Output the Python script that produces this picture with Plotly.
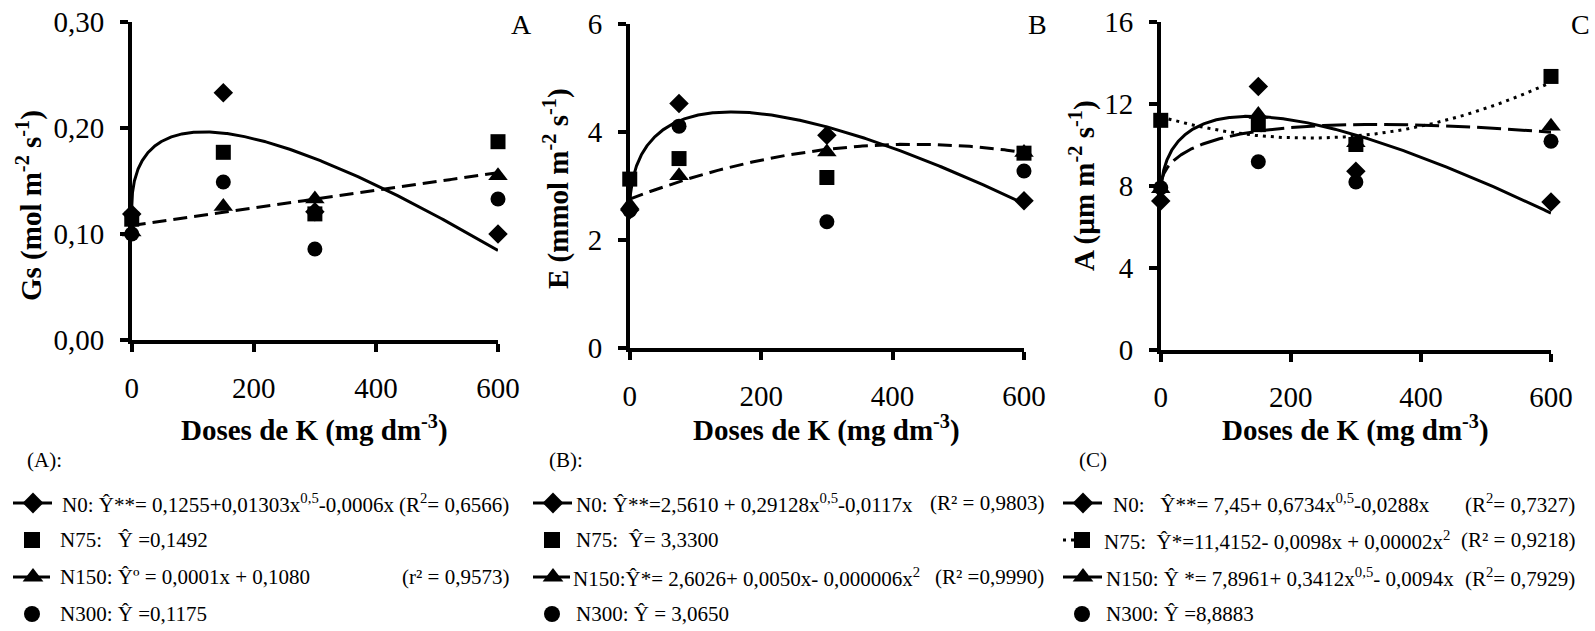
import numpy as np
import plotly.graph_objects as go

W, H = 1595, 631
FONT = "Liberation Serif, Times New Roman, serif"

# ---------------- data ----------------
doses_A = [0, 150, 300, 600]
gs_N0 = [0.119, 0.233, 0.121, 0.100]
gs_N75 = [0.114, 0.177, 0.119, 0.187]
gs_N150 = [0.102, 0.126, 0.133, 0.155]
gs_N300 = [0.100, 0.149, 0.086, 0.133]

doses_B = [0, 75, 300, 600]
e_N0 = [2.56, 4.53, 3.94, 2.73]
e_N75 = [3.13, 3.51, 3.16, 3.61]
e_N150 = [2.65, 3.19, 3.63, 3.62]
e_N300 = [2.55, 4.11, 2.34, 3.28]

doses_C = [0, 150, 300, 600]
a_N0 = [7.25, 12.84, 8.71, 7.21]
a_N75 = [11.19, 10.98, 10.01, 13.33]
a_N150 = [7.85, 11.47, 10.10, 10.90]
a_N300 = [7.90, 9.17, 8.18, 10.17]

# fitted trend-line coefficients (as drawn)
fit_A_N0 = [0.1255, 0.01303, -0.0006]        # a + b*x^0.5 + c*x
fit_A_N150 = [0.1080, 0.000083]               # a + b*x
fit_B_N0 = [2.5610, 0.29128, -0.0117]         # a + b*x^0.5 + c*x
fit_B_N150 = [2.76, 0.0047, -0.00000544]      # a + b*x + c*x^2
fit_C_N0 = [7.45, 0.6734, -0.0288]            # a + b*x^0.5 + c*x
fit_C_N75 = [11.35, -0.0090, 0.0000197]       # a + b*x + c*x^2
fit_C_N150 = [7.8961, 0.3412, -0.0094]        # a + b*x^0.5 + c*x

x_ticks = [0, 200, 400, 600]
yt_A = [0, 0.1, 0.2, 0.3]
yt_A_text = ["0,00", "0,10", "0,20", "0,30"]
yt_B = [0, 2, 4, 6]
yt_C = [0, 4, 8, 12, 16]

legend_A = ["N0: Ŷ**= 0,1255+0,01303x<sup>0,5</sup>-0,0006x",
            "N75:\u00a0\u00a0 Ŷ =0,1492",
            "N150: Ŷº = 0,0001x + 0,1080",
            "N300: Ŷ =0,1175"]
r2_A = ["(R<sup>2</sup>= 0,6566)", None, "(r² = 0,9573)", None]
legend_B = ["N0: Ŷ**=2,5610 + 0,29128x<sup>0,5</sup>-0,0117x",
            "N75:\u00a0 Ŷ= 3,3300",
            "N150:Ŷ*= 2,6026+ 0,0050x- 0,000006x<sup>2</sup>",
            "N300: Ŷ = 3,0650"]
r2_B = ["(R² = 0,9803)", None, "(R² =0,9990)", None]
legend_C = ["N0:\u00a0\u00a0 Ŷ**= 7,45+ 0,6734x<sup>0,5</sup>-0,0288x",
            "N75:\u00a0 Ŷ*=11,4152- 0,0098x + 0,00002x<sup>2</sup>",
            "N150: Ŷ *= 7,8961+ 0,3412x<sup>0,5</sup>- 0,0094x",
            "N300: Ŷ =8,8883"]
r2_C = ["(R<sup>2</sup>= 0,7327)", "(R² = 0,9218)", "(R<sup>2</sup>= 0,7929)", None]

# ---------------- helpers ----------------
xs = 600 * np.linspace(0, 1, 400) ** 2.5


def f_sqrt(c, x):
    return c[0] + c[1] * np.sqrt(x) + c[2] * x


def f_lin(c, x):
    return c[0] + c[1] * x


def f_quad(c, x):
    return c[0] + c[1] * x + c[2] * x ** 2


def px(v):
    return v / W


def py(v):
    return 1 - v / H


SYM = {"N0": ("diamond", 15), "N75": ("square", 15), "N150": ("triangle-up", 17), "N300": ("circle", 15)}

fig = go.Figure()

LW = 3.5
# axes pixel boxes: (x of y-axis line, x of 600, y top, y of x-axis line)
boxes = [(130, 498, 21.7, 342), (628, 1024, 24, 350), (1159, 1551, 21.7, 351.5)]


def add_panel(i, doses, series, curves):
    xa = "x" if i == 1 else f"x{i}"
    ya = "y" if i == 1 else f"y{i}"
    for (x, y, dash) in curves:
        fig.add_trace(go.Scatter(x=x, y=y, mode="lines", xaxis=xa, yaxis=ya,
                                 line=dict(color="black", width=3, dash=dash),
                                 showlegend=False, hoverinfo="skip", cliponaxis=False))
    for name, vals in series:
        s, sz = SYM[name]
        fig.add_trace(go.Scatter(x=doses, y=vals, mode="markers", xaxis=xa, yaxis=ya,
                                 marker=dict(symbol=s, size=sz, color="black", line=dict(width=0)),
                                 showlegend=False, cliponaxis=False, name=name))


add_panel(1, doses_A,
          [("N0", gs_N0), ("N75", gs_N75), ("N150", gs_N150), ("N300", gs_N300)],
          [(xs, f_sqrt(fit_A_N0, xs), "solid"), (xs, f_lin(fit_A_N150, xs), "14px,7px")])
add_panel(2, doses_B,
          [("N0", e_N0), ("N75", e_N75), ("N150", e_N150), ("N300", e_N300)],
          [(xs, f_sqrt(fit_B_N0, xs), "solid"), (xs, f_quad(fit_B_N150, xs), "14px,7px")])
add_panel(3, doses_C,
          [("N0", a_N0), ("N75", a_N75), ("N150", a_N150), ("N300", a_N300)],
          [(xs, f_sqrt(fit_C_N0, xs), "solid"), (xs, f_quad(fit_C_N75, xs), "3px,5px"),
           (xs, f_sqrt(fit_C_N150, xs), "24px,7px")])

axis_common = dict(showline=True, linewidth=LW, linecolor="black", ticks="outside", ticklen=8,
                   tickwidth=LW, tickcolor="black", showgrid=False, zeroline=False,
                   automargin=False,
                   tickfont=dict(family=FONT, size=29, color="black"))

yranges = [([0, 0.3], yt_A, yt_A_text), ([0, 6], yt_B, [str(v) for v in yt_B]),
           ([0, 16], yt_C, [str(v) for v in yt_C])]

layout = dict(template="none", width=W, height=H, margin=dict(l=0, r=0, t=0, b=0, pad=0),
              paper_bgcolor="white", plot_bgcolor="rgba(0,0,0,0)", showlegend=False,
              font=dict(family=FONT, color="black"))
for i, (b, yr) in enumerate(zip(boxes, yranges), start=1):
    x0, x1, yt, yb = b
    sfx = "" if i == 1 else str(i)
    layout["xaxis" + sfx] = dict(axis_common, domain=[px(x0 + LW / 2), px(x1)], range=[0, 600],
                                 tickvals=x_ticks, anchor="y" + sfx, ticklabelstandoff=11)
    layout["yaxis" + sfx] = dict(axis_common, domain=[py(yb - LW / 2), py(yt)], range=yr[0],
                                 tickvals=yr[1], ticktext=yr[2], anchor="x" + sfx,
                                 ticklabelstandoff=10)
# overlay pixel axis for the equation key symbols
layout["xaxis4"] = dict(domain=[0, 1], range=[0, W], visible=False, anchor="y4", fixedrange=True,
                        automargin=False)
layout["yaxis4"] = dict(domain=[0, 1], range=[H, 0], visible=False, anchor="x4", fixedrange=True,
                        automargin=False)
fig.update_layout(**layout)

ann = []


def text(x, y, s, size=21, bold=False, angle=0, xanchor="left"):
    ann.append(dict(x=px(x), y=py(y), xref="paper", yref="paper", text=f"<b>{s}</b>" if bold else s,
                    showarrow=False, xanchor=xanchor, yanchor="middle", textangle=angle,
                    font=dict(family=FONT, size=size, color="black")))


# axis titles
xt = "Doses de K (mg dm<sup>-3</sup>)"
for (x0, x1, yt, yb) in boxes:
    text((x0 + x1) / 2, 428, xt, size=29, bold=True, xanchor="center")
text(29, 206, "Gs (mol m<sup>-2</sup> s<sup>-1</sup>)", size=29, bold=True, angle=-90, xanchor="center")
text(557, 189, "E (mmol m<sup>-2</sup> s<sup>-1</sup>)", size=29, bold=True, angle=-90, xanchor="center")
text(1082, 186, "A (µm m<sup>-2</sup> s<sup>-1</sup>)", size=29, bold=True, angle=-90, xanchor="center")
# panel letters
text(521, 24, "A", size=28, xanchor="center")
text(1037, 24, "B", size=28, xanchor="center")
text(1580, 24, "C", size=28, xanchor="center")

rows = [503, 540, 577, 614]
# key text
text(25, 460, "(A):")
text(547, 460, "(B):")
text(1077, 460, "(C)")
for r, s, xx, r2 in zip(rows, legend_A, [60, 58, 58, 58], r2_A):
    text(xx, r, s)
    if r2:
        text(511, r, r2, xanchor="right")
for r, s, xx, r2 in zip(rows, legend_B, [574, 574, 571, 574], r2_B):
    text(xx, r, s)
    if r2:
        text(1046, r, r2, xanchor="right")
for r, s, xx, r2 in zip(rows, legend_C, [1111, 1102, 1104, 1104], r2_C):
    text(xx, r, s)
    if r2:
        text(1577, r, r2, xanchor="right")
fig.update_layout(annotations=ann)


# key symbols
def key(xl, xr, xc, y, name, dash=None):
    if dash is not None:
        fig.add_trace(go.Scatter(x=[xl, xr], y=[y, y], mode="lines", xaxis="x4", yaxis="y4",
                                 line=dict(color="black", width=3, dash=dash),
                                 showlegend=False, hoverinfo="skip"))
    s, sz = SYM[name]
    fig.add_trace(go.Scatter(x=[xc], y=[y], mode="markers", xaxis="x4", yaxis="y4",
                             marker=dict(symbol=s, size=sz + 1, color="black", line=dict(width=0)),
                             showlegend=False, hoverinfo="skip"))


for (xl, xr, xc) in [(13, 52, 33), (533, 572, 553)]:
    key(xl, xr, xc, rows[0], "N0", "solid")
    key(xl, xr, xc - 1, rows[1], "N75")
    key(xl, xr, xc, rows[2], "N150", "16px,5px")
    key(xl, xr, xc - 1, rows[3], "N300")
key(1063, 1102, 1083, rows[0], "N0", "solid")
key(1063, 1094, 1082, rows[1], "N75", "3px,5px")
key(1063, 1102, 1083, rows[2], "N150", "20px,6px")
key(1063, 1102, 1082, rows[3], "N300")

fig.write_html("out.html")
